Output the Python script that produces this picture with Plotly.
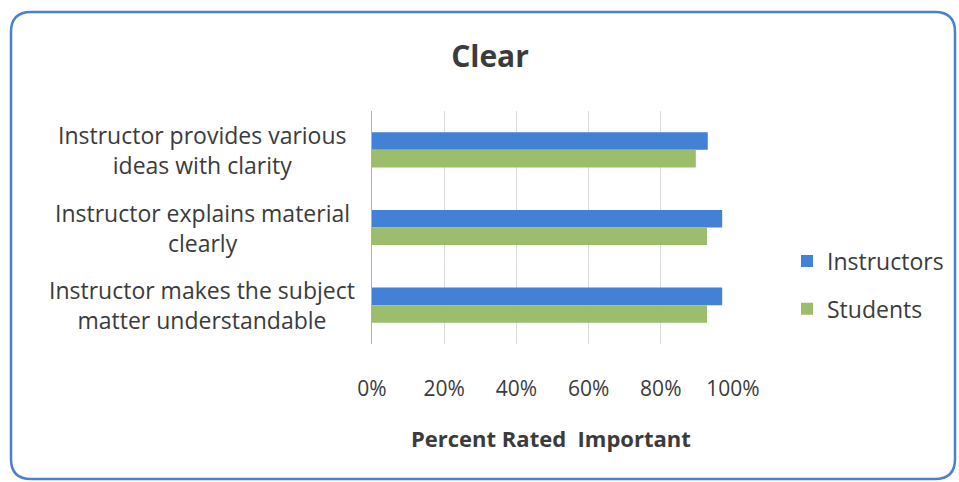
import plotly.graph_objects as go

categories = [
    "Instructor provides various<br>ideas with clarity",
    "Instructor explains material<br>clearly",
    "Instructor makes the subject<br>matter understandable",
]
cat_keys = ["provides", "explains", "makes"]
instructors = [93.0, 97.0, 97.0]
students = [89.7, 92.8, 92.8]
tick_vals = [0, 20, 40, 60, 80, 100]
tick_text = ["0%", "20%", "40%", "60%", "80%", "100%"]

W, H = 959, 482
L, R, T, B = 372, 733, 111, 344
FONT = "Open Sans"
TXT = "#3b3b3b"

def fx(px):
    return (px - L) / (R - L)

def fy(py):
    return (B - py) / (B - T)

fig = go.Figure()
fig.add_trace(go.Bar(y=cat_keys, x=instructors, orientation="h", name="Instructors",
                     marker=dict(color="#4281d6", line=dict(width=0)), legendgroup="a"))
fig.add_trace(go.Bar(y=cat_keys, x=students, orientation="h", name="Students",
                     marker=dict(color="#9cbd6c", line=dict(width=0)), legendgroup="b"))

# rounded border
x0, x1, y0, y1, r = 11, 955, 12, 479, 20
path = (f"M {fx(x0+r)},{fy(y0)} L {fx(x1-r)},{fy(y0)} Q {fx(x1)},{fy(y0)} {fx(x1)},{fy(y0+r)} "
        f"L {fx(x1)},{fy(y1-r)} Q {fx(x1)},{fy(y1)} {fx(x1-r)},{fy(y1)} "
        f"L {fx(x0+r)},{fy(y1)} Q {fx(x0)},{fy(y1)} {fx(x0)},{fy(y1-r)} "
        f"L {fx(x0)},{fy(y0+r)} Q {fx(x0)},{fy(y0)} {fx(x0+r)},{fy(y0)} Z")
fig.add_shape(type="path", path=path, xref="paper", yref="paper",
              line=dict(color="#4a80cf", width=2.5), layer="below")

for key, lab in zip(cat_keys, categories):
    fig.add_annotation(x=fx(202), y=key, xref="paper", yref="y", text=lab,
                       showarrow=False, xanchor="center", yanchor="middle", align="center",
                       font=dict(family=FONT, size=23, color=TXT))

fig.add_annotation(x=fx(551), y=fy(438), xref="paper", yref="paper",
                   text="<b>Percent Rated  Important</b>", showarrow=False,
                   xanchor="center", yanchor="middle",
                   font=dict(family=FONT, size=22, color=TXT))

fig.update_layout(
    width=W, height=H,
    margin=dict(l=L, r=W - R, t=T, b=H - B, pad=0, autoexpand=False),
    paper_bgcolor="white", plot_bgcolor="white",
    barmode="group", bargap=0.548, bargroupgap=0,
    title=dict(text="<b>Clear</b>", x=490 / W, xanchor="center", y=1 - 56 / H,
               yanchor="middle", yref="container",
               font=dict(family=FONT, size=30, color=TXT)),
    xaxis=dict(range=[0, 100], tickvals=tick_vals, ticktext=tick_text,
               showgrid=True, gridcolor="#dadada", gridwidth=1, zeroline=False,
               showline=False, ticks="", ticklabelstandoff=30,
               tickfont=dict(family=FONT, size=21, color=TXT), fixedrange=True),
    yaxis=dict(categoryorder="array", categoryarray=cat_keys, autorange="reversed",
               showticklabels=False, showline=True, linecolor="#b0b0b0", linewidth=1,
               showgrid=False, ticks="", zeroline=False),
    legend=dict(x=fx(787), y=fy(285), xanchor="left", yanchor="middle",
                traceorder="grouped", tracegroupgap=15,
                font=dict(family=FONT, size=23, color=TXT), itemwidth=30),
    showlegend=True,
)

fig.write_html("out.html")
